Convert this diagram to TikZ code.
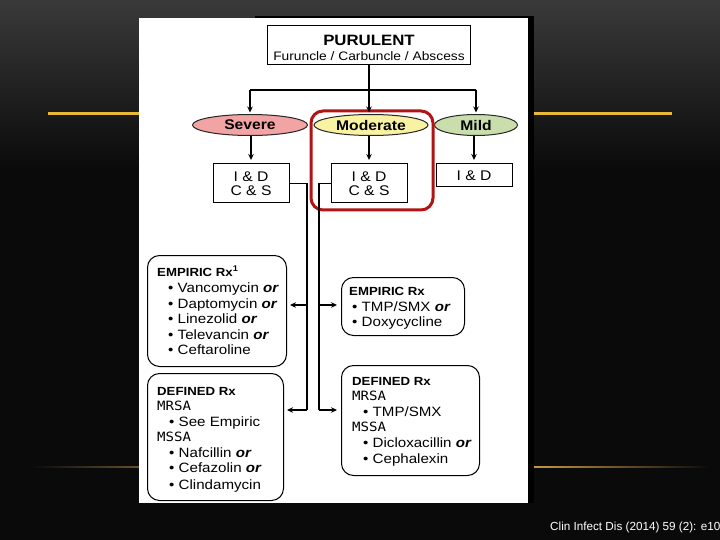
\documentclass[tikz,border=0pt]{standalone}
\usepackage{fontspec}
\setmainfont{Liberation Sans}[FakeStretch=1.12]
\newfontfamily\citef{Liberation Sans}
\newfontfamily\monof{DejaVu Sans Mono}[FakeStretch=1.1]
\usetikzlibrary{arrows.meta,shapes.geometric}
\definecolor{gold}{HTML}{E8B838}
\definecolor{sevcol}{HTML}{F2A4A4}
\definecolor{modcol}{HTML}{F8F2A2}
\definecolor{mildcol}{HTML}{C9DEAC}
\definecolor{hlred}{HTML}{B01414}
\definecolor{bgtop}{HTML}{3A3A3A}
\definecolor{bgbot}{HTML}{0A0A0A}
\begin{document}
\begin{tikzpicture}[x=1pt,y=-1pt,
  conn/.style={line width=1.1pt, draw=black},
  arr/.style={conn,-{Stealth[length=6pt,width=5.5pt]}},
  box/.style={draw=black, line width=1pt, fill=white, inner sep=0pt},
  rbox/.style={box, rounded corners=12pt},
  ell/.style={ellipse, draw=black!85, line width=1pt, inner sep=0pt, minimum height=21pt, font=\bfseries\fontsize{14}{14}\selectfont},
  ln/.style={anchor=base west, inner sep=0pt, font=\fontsize{13.5}{13.5}\selectfont},
  hd/.style={anchor=base west, inner sep=0pt, font=\bfseries\fontsize{11.8}{11.8}\selectfont},
  mono/.style={anchor=base west, inner sep=0pt, font=\monof\fontsize{12.8}{12.8}\selectfont},
]
\useasboundingbox (0,0) rectangle (720,540);
% background
\fill[bgbot] (0,0) rectangle (720,540);
\shade[top color=bgtop, bottom color=bgbot] (0,0) rectangle (720,170);
\fill[gold] (48,112.5) rectangle (672,115.5);
\shade[left color=bgbot, right color={rgb,255:red,100;green,80;blue,48}] (30,466.3) rectangle (140,467.8);
\shade[left color={rgb,255:red,200;green,150;blue,70}, right color=bgbot] (534,466.3) rectangle (710,467.8);
% image panel
\fill[black] (255,16) rectangle (534,18);
\fill[black] (528,16) rectangle (534,503);
\fill[white] (139,18) rectangle (528,503);

% top box
\node[box, minimum width=203pt, minimum height=39pt] (pur) at (369,45.5) {};
\node[inner sep=0pt, font=\bfseries\fontsize{15}{15}\selectfont] (purt) at (369,40) {PURULENT};
\node[inner sep=0pt, font=\fontsize{12.3}{12.3}\selectfont] (purs) at (369,56) {Furuncle / Carbuncle / Abscess};

% severity ellipses
\node[ell, fill=sevcol, minimum width=115pt] (sev) at (250,125) {Severe};
\node[ell, fill=modcol, minimum width=114pt] (mod) at (371,125) {Moderate};
\node[ell, fill=mildcol, minimum width=83pt] (mild) at (476,125) {Mild};

% I&D boxes
\node[box, minimum width=76pt, minimum height=39pt, align=center, font=\fontsize{14}{14}\selectfont] (sevid) at (251,183.5) {I \& D\\C \& S};
\node[box, minimum width=76pt, minimum height=39pt, align=center, font=\fontsize{14}{14}\selectfont] (modid) at (369,183.5) {I \& D\\C \& S};
\node[box, minimum width=76pt, minimum height=23pt, font=\fontsize{14}{14}\selectfont] (mildid) at (474,175.5) {I \& D};

% highlight
\draw[hlred, line width=3pt, rounded corners=12pt] (311,111) rectangle (433,210);

% Rx boxes
\node[rbox, anchor=north west, minimum width=139pt, minimum height=111pt] (empl) at (147,255) {};
\node[rbox, anchor=north west, minimum width=123pt, minimum height=58pt] (empr) at (341,277) {};
\node[rbox, anchor=north west, minimum width=136pt, minimum height=127pt] (defl) at (147,373) {};
\node[rbox, anchor=north west, minimum width=138pt, minimum height=110pt] (defr) at (341,365) {};

% texts: empiric left
\node[hd] (el0) at (157,276) {EMPIRIC Rx\textsuperscript{1}};
\node[ln] (el1) at (168,292.5) {• Vancomycin \textbf{\textit{or}}};
\node[ln] (el2) at (168,308) {• Daptomycin \textbf{\textit{or}}};
\node[ln] (el3) at (168,323.6) {• Linezolid \textbf{\textit{or}}};
\node[ln] (el4) at (168,339.2) {• Televancin \textbf{\textit{or}}};
\node[ln] (el5) at (168,354.8) {• Ceftaroline};
% empiric right
\node[hd] (er0) at (349,295) {EMPIRIC Rx};
\node[ln] (er1) at (352,311.5) {• TMP/SMX \textbf{\textit{or}}};
\node[ln] (er2) at (352,326.5) {• Doxycycline};
% defined left
\node[hd] (dl0) at (157,395) {DEFINED Rx};
\node[mono] (dl1) at (157,410.5) {MRSA};
\node[ln] (dl2) at (169,426) {• See Empiric};
\node[mono] (dl3) at (157,441.5) {MSSA};
\node[ln] (dl4) at (169,457) {• Nafcillin \textbf{\textit{or}}};
\node[ln] (dl5) at (169,472.5) {• Cefazolin \textbf{\textit{or}}};
\node[ln] (dl6) at (169,489) {• Clindamycin};
% defined right
\node[hd] (dr0) at (352,385) {DEFINED Rx};
\node[mono] (dr1) at (352,400.5) {MRSA};
\node[ln] (dr2) at (363,416) {• TMP/SMX};
\node[mono] (dr3) at (352,431.5) {MSSA};
\node[ln] (dr4) at (363,447) {• Dicloxacillin \textbf{\textit{or}}};
\node[ln] (dr5) at (363,463) {• Cephalexin};

% connectors top
\coordinate (h) at (369,90);
\draw[conn] (h -| sev.north) -- (h -| mild.north);
\draw[arr, shorten >=1.5pt] (pur.south) -- (pur.south |- mod.north);
\draw[arr, shorten >=1.5pt] (h -| sev.north) -- (sev.north);
\draw[arr, shorten >=1.5pt] (h -| mild.north) -- (mild.north);
\draw[arr, shorten >=3.5pt] (sevid.north |- sev.south) -- (sevid.north);
\draw[arr, shorten >=3.5pt] (modid.north |- mod.south) -- (modid.north);
\draw[arr, shorten >=3.5pt] (mildid.north |- mild.south) -- (mildid.north);

% lower connectors
\coordinate (la) at (307,305);
\coordinate (lb) at (307,410);
\coordinate (ra) at (319,305);
\coordinate (rb) at (319,410);
\draw[conn] (sevid.east) -| (lb);
\draw[arr, shorten >=3pt] (la) -- (la -| empl.east);
\draw[arr, shorten >=3pt] (lb) -- (lb -| defl.east);
\draw[conn] (modid.west) -| (rb);
\draw[arr, shorten >=4pt] (ra) -- (ra -| empr.west);
\draw[arr, shorten >=4pt] (rb) -- (rb -| defr.west);

% citation
\node[anchor=base west, inner sep=0pt, text=white, font=\citef\fontsize{11.7}{11.7}\selectfont] (cite) at (550,530.5) {Clin Infect Dis (2014) 59 (2): e10};
\end{tikzpicture}
\end{document}
